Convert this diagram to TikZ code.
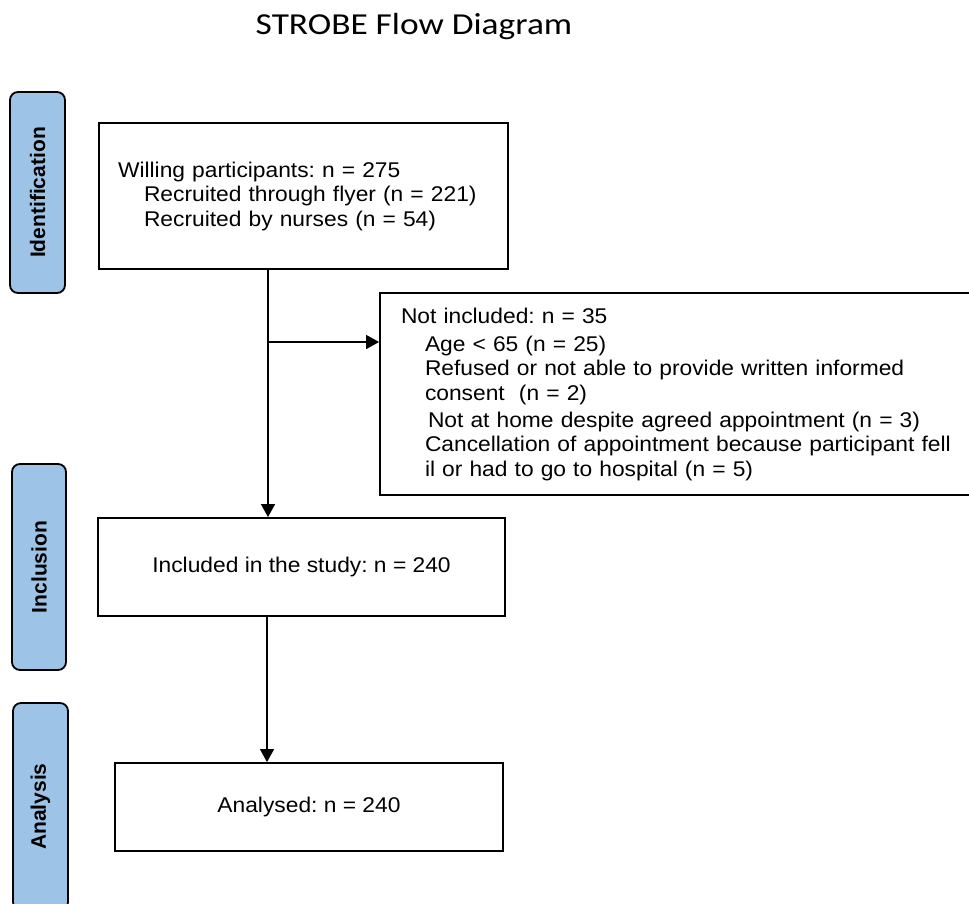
\documentclass[tikz,border=0pt]{standalone}
\usepackage{fontspec}
\setmainfont{Liberation Sans}
\newfontfamily\titlefont[FakeStretch=1.16]{Carlito}
\newfontfamily\boxfont[FakeStretch=1.07]{Liberation Sans}
\newfontfamily\barfont{Liberation Sans Bold}
\usetikzlibrary{arrows.meta}
\definecolor{barblue}{RGB}{157,195,230}
\frenchspacing
\begin{document}
\begin{tikzpicture}[x=1pt,y=-1pt,
  box/.style={draw=black, line width=1.8pt, fill=white, inner ysep=0pt,
    font=\boxfont\fontsize{21.3}{24.5}\selectfont},
  bar/.style={draw=black, line width=1.8pt, fill=barblue, rounded corners=8pt,
    rotate=90, inner sep=0pt, font=\barfont\fontsize{21}{24}\selectfont},
  arr/.style={line width=1.2pt, -{Triangle[length=13pt,width=14pt]}}]
\useasboundingbox (0,0) rectangle (969,903);

\node[font=\titlefont\fontsize{30.5}{36}\selectfont, anchor=base] (title) at (414,34) {STROBE Flow Diagram};

% phase bars
\node[bar, minimum width=201pt, minimum height=55pt] (idbar) at (37.5,192.5) {Identification};
\node[bar, minimum width=206pt, minimum height=54pt] (incbar) at (39,567) {Inclusion};
\node[bar, minimum width=207pt, minimum height=55pt] (anabar) at (40.5,806.5) {Analysis};

% boxes
\node[box, inner xsep=19pt, text width=371pt, align=left, minimum height=146pt] (willing) at (303.5,196)
  {Willing participants: n = 275\\
   \hspace*{26pt}Recruited through flyer (n = 221)\\
   \hspace*{26pt}Recruited by nurses (n = 54)};

\node[box, inner xsep=21pt, text width=550pt, align=left, minimum height=202pt] (notinc) at (676,394)
  {Not included: n = 35\\[3.5pt]
   \hspace*{24pt}Age < 65 (n = 25)\\
   \hspace*{24pt}Refused or not able to provide written informed\\
   \hspace*{24pt}consent~ (n = 2)\\[2.5pt]
   \hspace*{27pt}Not at home despite agreed appointment (n = 3)\\
   \hspace*{24pt}Cancellation of appointment because participant fell\\
   \hspace*{24pt}il or had to go to hospital (n = 5)};

\node[box, inner xsep=0pt, minimum width=407pt, minimum height=98pt] (incl) at (301.5,567)
  {Included in the study: n = 240};

\node[box, inner xsep=0pt, minimum width=388pt, minimum height=88pt] (anal) at (309,807)
  {Analysed: n = 240};

% connectors
\coordinate (spine) at (268,0);
\coordinate (spinetwo) at (267,0);
\coordinate (branch) at (0,342);
\draw[arr] (willing.south -| spine) -- (incl.north -| spine);
\draw[arr] (spine |- branch) -- (notinc.west |- branch);
\draw[arr] (incl.south -| spinetwo) -- (anal.north -| spinetwo);
\end{tikzpicture}
\end{document}
